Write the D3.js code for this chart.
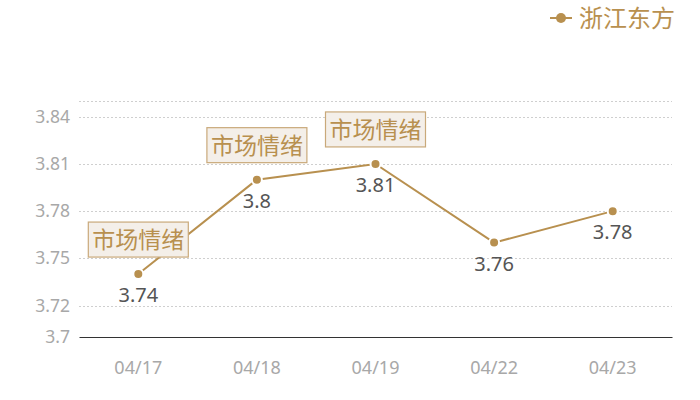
<!DOCTYPE html>
<html>
<head>
<meta charset="utf-8">
<script src="https://cdn.jsdelivr.net/npm/d3@7"></script>
<style>
  body { margin: 0; background: #fff; }
  text { font-family: "Noto Sans CJK SC", "Noto Sans", sans-serif; }
</style>
</head>
<body>
<svg id="chart" width="700" height="400"></svg>
<script>
var seriesName = "浙江东方";
var dates = ["04/17", "04/18", "04/19", "04/22", "04/23"];
var prices = [3.74, 3.8, 3.81, 3.76, 3.78];
var yTicks = [3.7, 3.72, 3.75, 3.78, 3.81, 3.84];
var gridTicks = [3.72, 3.75, 3.78, 3.81, 3.84, 3.85];
var noteIndex = [0, 1, 2];
var noteText = "市场情绪";

var gold = "#b8904f";
var svg = d3.select("#chart");

var x = d3.scaleBand().domain(dates).range([79, 672]);
var y = d3.scaleLinear().domain([3.7, 3.85]).range([337, 101]);

// grid
svg.append("g").selectAll("line")
    .data(gridTicks)
    .enter()
    .append("line")
    .attr("x1", 79).attr("x2", 672)
    .attr("y1", function (d) { return Math.round(y(d)) + 0.5; })
    .attr("y2", function (d) { return Math.round(y(d)) + 0.5; })
    .attr("stroke", "#cfcfcf")
    .attr("stroke-dasharray", "2,2");

// y axis labels
var yAxis = svg.append("g")
    .attr("transform", "translate(79,0)")
    .call(d3.axisLeft(y).tickValues(yTicks).tickSize(0).tickPadding(9)
        .tickFormat(function (d) { return String(d); }));
yAxis.select(".domain").remove();
yAxis.selectAll("text")
    .attr("fill", "#a8a8a8")
    .style("font-family", "'Noto Sans', sans-serif")
    .style("font-size", "17.5px");

// x axis
var xAxis = svg.append("g")
    .attr("transform", "translate(0,337)")
    .call(d3.axisBottom(x).tickSize(0).tickPadding(24));
xAxis.select(".domain").attr("stroke", "#333333").attr("stroke-width", 1.2);
xAxis.selectAll("text")
    .attr("fill", "#a8a8a8")
    .style("font-family", "'Noto Sans', sans-serif")
    .style("font-size", "18px");

function cx(d) { return x(d) + x.bandwidth() / 2; }

// line
var line = d3.line()
    .x(function (d, i) { return cx(dates[i]); })
    .y(function (d) { return y(d); });

svg.append("path")
    .datum(prices)
    .attr("d", line)
    .attr("fill", "none")
    .attr("stroke", gold)
    .attr("stroke-width", 2);

svg.append("g").selectAll("circle")
    .data(prices)
    .enter()
    .append("circle")
    .attr("cx", function (d, i) { return cx(dates[i]); })
    .attr("cy", function (d) { return y(d); })
    .attr("r", 5)
    .attr("fill", gold)
    .attr("stroke", "#fff")
    .attr("stroke-width", 2);

// value labels
svg.append("g").selectAll("text")
    .data(prices)
    .enter()
    .append("text")
    .attr("x", function (d, i) { return cx(dates[i]); })
    .attr("y", function (d) { return y(d) + 28; })
    .attr("text-anchor", "middle")
    .attr("fill", "#555555")
    .style("font-family", "'Noto Sans', sans-serif")
    .style("font-size", "20px")
    .text(function (d) { return String(d); });

// notes
var notes = svg.append("g").selectAll("g")
    .data(noteIndex)
    .enter()
    .append("g")
    .attr("transform", function (i) {
        return "translate(" + cx(dates[i]) + "," + (y(prices[i]) - 17) + ")";
    });

notes.append("rect")
    .attr("x", -50).attr("y", -35)
    .attr("width", 100).attr("height", 35)
    .attr("fill", "#f4efe9")
    .attr("stroke", "#c9a97a")
    .attr("stroke-width", 1.2);

notes.append("text")
    .attr("x", 0).attr("y", -9)
    .attr("text-anchor", "middle")
    .attr("fill", gold)
    .style("font-size", "23px")
    .text(noteText);

// legend
var legend = svg.append("g").attr("transform", "translate(550,18)");
legend.append("line")
    .attr("x1", 0).attr("x2", 22)
    .attr("stroke", gold).attr("stroke-width", 2);
legend.append("circle")
    .attr("cx", 11).attr("r", 5)
    .attr("fill", gold);
legend.append("text")
    .attr("x", 29).attr("y", 9)
    .attr("fill", gold)
    .style("font-size", "24px")
    .text(seriesName);
</script>
</body>
</html>
